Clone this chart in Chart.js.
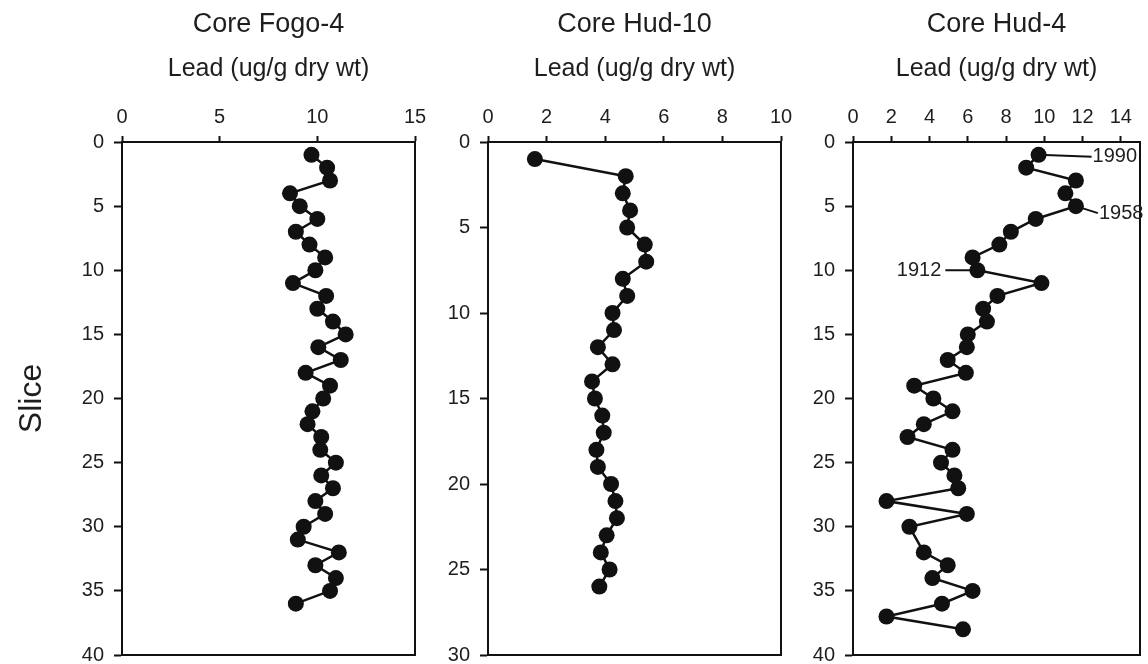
<!DOCTYPE html>
<html>
<head>
<meta charset="utf-8">
<script src="https://cdn.jsdelivr.net/npm/chart.js@4.4.0/dist/chart.umd.min.js"></script>
<style>
  html, body { margin: 0; padding: 0; background: #fff; }
  #wrap { position: relative; width: 1148px; height: 664px; overflow: hidden; }
  .panel { position: absolute; top: 0; height: 664px; }
</style>
</head>
<body>
<div id="wrap">
  <div class="panel" style="left:0;width:430px"><canvas id="fogo4"></canvas></div>
  <div class="panel" style="left:420px;width:380px"><canvas id="hud10"></canvas></div>
  <div class="panel" style="left:785px;width:363px"><canvas id="hud4"></canvas></div>
</div>
<script>
// slice number (down core) and lead concentration
var fogoSlices = [1, 2, 3, 4, 5, 6, 7, 8, 9, 10, 11, 12, 13, 14, 15, 16, 17, 18,
    19, 20, 21, 22, 23, 24, 25, 26, 27, 28, 29, 30, 31, 32, 33, 34, 35, 36];
var fogoLead = [9.7, 10.5, 10.65, 8.6, 9.1, 10.0, 8.9, 9.6, 10.4, 9.9, 8.75, 10.45,
    10.0, 10.8, 11.45, 10.05, 11.2, 9.4, 10.65, 10.3, 9.75, 9.5, 10.2, 10.15,
    10.95, 10.2, 10.8, 9.9, 10.4, 9.3, 9.0, 11.1, 9.9, 10.95, 10.65, 8.9];

var hud10Slices = [1, 2, 3, 4, 5, 6, 7, 8, 9, 10, 11, 12, 13, 14, 15, 16, 17, 18,
    19, 20, 21, 22, 23, 24, 25, 26];
var hud10Lead = [1.6, 4.7, 4.6, 4.85, 4.75, 5.35, 5.4, 4.6, 4.75, 4.25, 4.3, 3.75,
    4.25, 3.55, 3.65, 3.9, 3.95, 3.7, 3.75, 4.2, 4.35, 4.4, 4.05, 3.85, 4.15, 3.8];

// no sample for slice 31
var hud4Slices = [1, 2, 3, 4, 5, 6, 7, 8, 9, 10, 11, 12, 13, 14, 15, 16, 17, 18,
    19, 20, 21, 22, 23, 24, 25, 26, 27, 28, 29, 30, 32, 33, 34, 35, 36, 37, 38];
var hud4Lead = [9.7, 9.05, 11.65, 11.1, 11.65, 9.55, 8.25, 7.65, 6.25, 6.5, 9.85,
    7.55, 6.8, 7.0, 6.0, 5.95, 4.95, 5.9, 3.2, 4.2, 5.2, 3.7, 2.85, 5.2, 4.6, 5.3,
    5.5, 1.75, 5.95, 2.95, 3.7, 4.95, 4.15, 6.25, 4.65, 1.75, 5.75];

// dated horizons in Hud-4
var datedYears = ['1990', '1958', '1912'];
var datedSlices = [1, 5, 10];

var FONT = '"Liberation Sans", Arial, Helvetica, sans-serif';
var INK = '#1e1e1e';

var coreTitlePlugin = {
    id: 'coreTitle',
    afterDraw: function (chart, args, opts) {
        var ctx = chart.ctx;
        var area = chart.chartArea;
        ctx.save();
        ctx.font = '27px ' + FONT;
        ctx.fillStyle = INK;
        ctx.textAlign = 'center';
        ctx.textBaseline = 'alphabetic';
        ctx.fillText(opts.text, (area.left + area.right) / 2, 32);
        ctx.restore();
    }
};

// closed box around the plot
var framePlugin = {
    id: 'frame',
    beforeDatasetsDraw: function (chart) {
        var ctx = chart.ctx;
        var a = chart.chartArea;
        ctx.save();
        ctx.strokeStyle = '#111';
        ctx.lineWidth = 2;
        ctx.strokeRect(a.left, a.top, a.right - a.left, a.bottom - a.top);
        ctx.restore();
    }
};

var datingPlugin = {
    id: 'dating',
    afterDatasetsDraw: function (chart) {
        var xs = chart.scales.x;
        var ys = chart.scales.y;
        var ctx = chart.ctx;
        var offsets = [[54, 2], [23, 7], [-36, 0]]; // label offset from point, px
        ctx.save();
        ctx.font = '20px ' + FONT;
        ctx.fillStyle = INK;
        ctx.strokeStyle = '#111';
        ctx.lineWidth = 2;
        ctx.textBaseline = 'middle';
        datedSlices.forEach(function (slice, i) {
            var k = hud4Slices.indexOf(slice);
            var px = xs.getPixelForValue(hud4Lead[k]);
            var py = ys.getPixelForValue(slice);
            var dx = offsets[i][0], dy = offsets[i][1];
            var right = dx > 0;
            ctx.beginPath();
            ctx.moveTo(px, py);
            ctx.lineTo(right ? px + dx - 1 : px + dx + 4, py + dy);
            ctx.stroke();
            ctx.textAlign = right ? 'left' : 'right';
            ctx.fillText(datedYears[i], px + dx, py + dy);
        });
        ctx.restore();
    }
};

function makeCore(canvasId, title, slices, lead, o) {
    var ctx = document.getElementById(canvasId).getContext('2d');

    var points = [];
    slices.forEach(function (s, i) {
        points.push({ x: lead[i], y: s });
    });

    var plugins = [coreTitlePlugin, framePlugin];
    if (o.dating) plugins.push(datingPlugin);

    return new Chart(ctx, {
        type: 'scatter',
        data: {
            datasets: [{
                data: points,
                showLine: true,
                borderColor: '#111',
                borderWidth: 2.5,
                backgroundColor: '#111',
                pointRadius: 8,
                pointBorderWidth: 0,
                pointBackgroundColor: '#111',
            }],
        },
        options: {
            responsive: true,
            maintainAspectRatio: false,
            animation: false,
            layout: { padding: { top: 0, left: 0, right: o.padRight, bottom: 9 } },
            plugins: {
                legend: { display: false },
                tooltip: { enabled: false },
                title: { display: false },
                coreTitle: { text: title },
            },
            scales: {
                x: {
                    type: 'linear',
                    position: 'top',
                    min: 0,
                    max: o.xMax,
                    // ticks only on whole steps, the axis may run past the last one
                    afterBuildTicks: function (scale) {
                        var ticks = [];
                        for (var v = 0; v <= o.xMax; v += o.xStep) ticks.push({ value: v });
                        scale.ticks = ticks;
                    },
                    afterFit: function (scale) {
                        scale.height = 142;
                        scale.paddingLeft = 0;
                        scale.paddingRight = 0;
                    },
                    ticks: {
                        stepSize: o.xStep,
                        padding: 7,
                        color: INK,
                        font: { family: FONT, size: 20 },
                    },
                    grid: {
                        drawOnChartArea: false,
                        drawTicks: true,
                        tickLength: 6,
                        tickColor: '#111',
                        tickWidth: 2,
                    },
                    border: { display: true, color: '#111', width: 2 },
                    title: {
                        display: true,
                        text: 'Lead (ug/g dry wt)',
                        color: INK,
                        font: { family: FONT, size: 25 },
                        padding: { top: 54, bottom: 0 },
                    },
                },
                y: {
                    type: 'linear',
                    reverse: true,
                    min: 0,
                    max: o.yMax,
                    afterFit: function (scale) {
                        scale.width = o.yWidth;
                        scale.paddingTop = 0;
                        scale.paddingBottom = 0;
                    },
                    ticks: {
                        stepSize: 5,
                        padding: 10,
                        color: INK,
                        font: { family: FONT, size: 20 },
                    },
                    grid: {
                        drawOnChartArea: false,
                        drawTicks: true,
                        tickLength: 8,
                        tickColor: '#111',
                        tickWidth: 2,
                    },
                    border: { display: true, color: '#111', width: 2 },
                    title: {
                        display: !!o.yTitle,
                        text: o.yTitle || '',
                        color: INK,
                        font: { family: FONT, size: 32 },
                        padding: { top: 13, bottom: 0 },
                    },
                },
            },
        },
        plugins: plugins,
    });
}

makeCore('fogo4', 'Core Fogo-4', fogoSlices, fogoLead,
    { xMax: 15, xStep: 5, yMax: 40, yWidth: 122, padRight: 15, yTitle: 'Slice' });
makeCore('hud10', 'Core Hud-10', hud10Slices, hud10Lead,
    { xMax: 10, xStep: 2, yMax: 30, yWidth: 68, padRight: 19 });
makeCore('hud4', 'Core Hud-4', hud4Slices, hud4Lead,
    { xMax: 15, xStep: 2, yMax: 40, yWidth: 68, padRight: 3, dating: true });
</script>
</body>
</html>
